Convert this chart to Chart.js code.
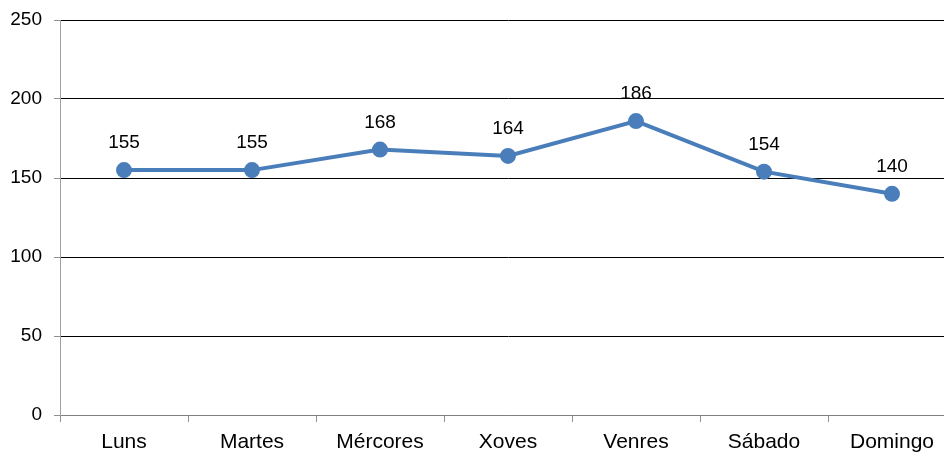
<!DOCTYPE html>
<html>
<head>
<meta charset="utf-8">
<script src="https://cdn.jsdelivr.net/npm/chart.js@4"></script>
<style>
  html, body { margin: 0; padding: 0; background: #fff; overflow: hidden; width: 944px; height: 454px; }
  canvas { display: block; }
</style>
</head>
<body>
<canvas id="c" width="956" height="454"></canvas>
<script>
const categories = ['Luns', 'Martes', 'Mércores', 'Xoves', 'Venres', 'Sábado', 'Domingo'];
const values = [155, 155, 168, 164, 186, 154, 140];
const yTicks = [0, 50, 100, 150, 200, 250];

const FONT = 'Liberation Sans, Arial, sans-serif';

// Writes each point's value above its marker
const valueLabels = {
  id: 'valueLabels',
  afterDatasetsDraw(chart) {
    const ctx = chart.ctx;
    const meta = chart.getDatasetMeta(0);
    ctx.save();
    ctx.font = '19px ' + FONT;
    ctx.fillStyle = '#000';
    ctx.textAlign = 'center';
    ctx.textBaseline = 'middle';
    meta.data.forEach((pt, i) => {
      ctx.fillText(String(values[i]), pt.x, pt.y - 27);
    });
    ctx.restore();
  }
};

new Chart(document.getElementById('c'), {
  type: 'line',
  data: {
    labels: categories,
    datasets: [{
      data: values,
      borderColor: '#4a7ebb',
      backgroundColor: '#4a7ebb',
      borderWidth: 4,
      pointRadius: 6,
      pointHoverRadius: 6,
      tension: 0,
      fill: false
    }]
  },
  options: {
    responsive: false,
    animation: false,
    events: [],
    layout: { autoPadding: false, padding: { top: 20, right: 0, left: 0, bottom: 0 } },
    plugins: { legend: { display: false }, tooltip: { enabled: false } },
    scales: {
      x: {
        offset: true,
        grid: {
          offset: true,
          drawOnChartArea: false,
          drawTicks: true,
          tickLength: 7,
          color: '#909090'
        },
        border: { color: '#808080', width: 1 },
        ticks: {
          color: '#000',
          font: { family: FONT, size: 21 },
          padding: 8
        },
        afterFit(scale) { scale.height = 39; }
      },
      y: {
        min: 0,
        max: 250,
        afterBuildTicks(scale) { scale.ticks = yTicks.map(v => ({ value: v })); },
        grid: {
          color: ctx => ctx.tick && ctx.tick.value === 0 ? '#808080' : '#000',
          tickColor: '#909090',
          tickLength: 6,
          lineWidth: 1
        },
        border: { color: '#a0a0a0', width: 1 },
        ticks: {
          color: '#000',
          font: { family: FONT, size: 19 },
          padding: 12
        },
        afterFit(scale) {
          scale.width = 60;
          scale.paddingTop = 0;
          scale.paddingBottom = 0;
        }
      }
    }
  },
  plugins: [valueLabels]
});
</script>
</body>
</html>
